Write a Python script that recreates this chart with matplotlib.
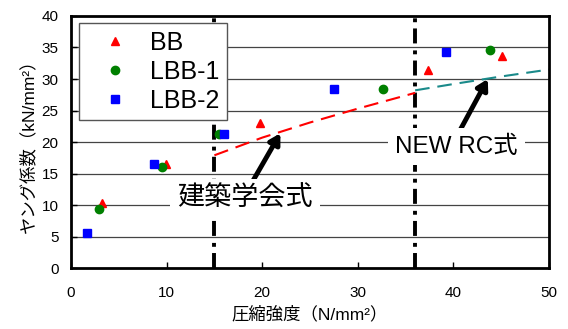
import matplotlib.pyplot as plt

plt.rcParams['font.family'] = ['Liberation Sans', 'Noto Sans CJK JP', 'DejaVu Sans']

# measured points (compressive strength, Young's modulus)
bb_x = [3.2, 9.9, 19.8, 37.3, 45.1]
bb_y = [10.4, 16.5, 23.1, 31.5, 33.6]
lbb1_x = [2.9, 9.5, 15.5, 32.6, 43.8]
lbb1_y = [9.4, 16.1, 21.3, 28.4, 34.6]
lbb2_x = [1.7, 8.7, 16.0, 27.5, 39.2]
lbb2_y = [5.6, 16.5, 21.2, 28.4, 34.3]

# design curves
aij_x = [15, 20, 25, 30, 36]
aij_y = [17.9, 20.7, 23.1, 25.3, 27.8]
newrc_x = [36, 40, 45, 50]
newrc_y = [28.2, 29.2, 30.4, 31.5]

fig = plt.figure(figsize=(5.68, 3.29), dpi=100)
ax = fig.add_axes([0.125, 0.185, 0.8415, 0.7665])

for y in range(5, 40, 5):
    ax.axhline(y, color='#444444', lw=0.9, zorder=0)

dashdot = (0, (3.85, 1.6, 1.0, 1.8))
ax.axvline(15, color='black', lw=2.8, linestyle=dashdot, zorder=1)
ax.axvline(36, color='black', lw=2.8, linestyle=dashdot, zorder=1)

ax.plot(aij_x, aij_y, color='red', lw=1.5, linestyle=(0, (7, 3.8)), zorder=2)
ax.plot(newrc_x, newrc_y, color='#1a8a8a', lw=1.5, linestyle=(0, (7, 3.8)), zorder=2)

ax.plot(bb_x, bb_y, '^', color='red', ms=6, ls='none', label='BB', zorder=3)
ax.plot(lbb1_x, lbb1_y, 'o', color='green', ms=6, ls='none', label='LBB-1', zorder=3)
ax.plot(lbb2_x, lbb2_y, 's', color='blue', ms=6, ls='none', label='LBB-2', zorder=3)

arrow = dict(arrowstyle='-|>,head_length=0.6,head_width=0.35', lw=3.5, color='black',
             shrinkA=0, shrinkB=0)
ax.annotate('', xy=(21.9, 21.4), xytext=(18.9, 13.5), arrowprops=arrow, zorder=4)
ax.annotate('', xy=(43.6, 30.0), xytext=(40.6, 21.6), arrowprops=arrow, zorder=4)

ax.text(18.2, 11.0, '建築学会式', fontsize=19.5, ha='center', va='center', zorder=5,
        bbox=dict(facecolor='white', edgecolor='none', pad=5))
ax.text(40.3, 19.3, 'NEW RC式', fontsize=17.5, ha='center', va='center', zorder=5,
        bbox=dict(facecolor='white', edgecolor='none', pad=5))

ax.set_xlim(0, 50)
ax.set_ylim(0, 40)
ax.set_xticks(range(0, 51, 10))
ax.set_yticks(range(0, 41, 5))
ax.tick_params(direction='in', length=4, width=1, labelsize=11)
ax.tick_params(axis='x', pad=13)
ax.tick_params(axis='y', pad=9)
for s in ax.spines.values():
    s.set_linewidth(2)

ax.set_xlabel('圧縮強度（N/mm²）', fontsize=12.5, labelpad=4)
ax.set_ylabel('ヤング係数（kN/mm²）', fontsize=12.5, labelpad=4)

leg = ax.legend(loc='upper left', fontsize=18, frameon=True, fancybox=False,
                handletextpad=0.25, borderpad=0.3, labelspacing=0.2,
                borderaxespad=0.3, handlelength=2.3)
leg.get_frame().set_edgecolor('#555555')
leg.get_frame().set_linewidth(1)
leg.get_frame().set_alpha(1)

fig.savefig('out.png', dpi=100)
